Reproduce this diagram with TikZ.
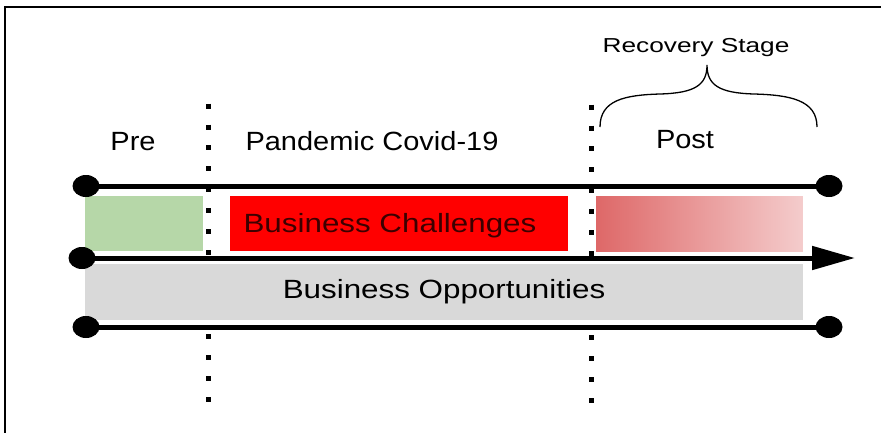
\documentclass[tikz,border=0pt]{standalone}
\usepackage{fontspec}
\setmainfont{Liberation Sans}
\newfontfamily\phasefont[FakeStretch=1.1]{Liberation Sans}
\newfontfamily\bandfont[FakeStretch=1.19]{Liberation Sans}
\newfontfamily\stagefont[FakeStretch=1.3]{Liberation Sans}
\usetikzlibrary{positioning,shapes.geometric,arrows.meta}

\definecolor{pregreen}{RGB}{182,215,168}
\definecolor{postred}{RGB}{222,104,104}
\definecolor{postpink}{RGB}{244,204,204}
\definecolor{oppgray}{RGB}{217,217,217}
\definecolor{darktext}{RGB}{60,0,0}

\newcommand{\linew}{0.1cm}
\newcommand{\bandheight}{1.1cm}

\tikzstyle{endpt}=[fill=black,draw=none,shape=ellipse,inner sep=0pt,
                   minimum width=0.54cm,minimum height=0.44cm]
\tikzstyle{timeline}=[draw=black,line width=\linew]
\tikzstyle{divider}=[draw=black,line width=\linew,dash pattern=on 0.1cm off 0.32cm]
\tikzstyle{band}=[draw=none,shape=rectangle,inner sep=0pt,minimum height=\bandheight,
                  font={\bandfont\fontsize{15}{18}\selectfont}]
\tikzstyle{phase}=[anchor=base,inner sep=0pt,font={\phasefont\fontsize{15}{18}\selectfont}]
\tikzstyle{stagelabel}=[anchor=base,inner sep=0pt,font={\stagefont\fontsize{11.5}{14}\selectfont}]

\begin{document}
\begin{tikzpicture}[x=0.02cm,y=-0.02cm]
\useasboundingbox (0,0) rectangle (881,433);

% page frame, top and left only
\draw [line width=0.04cm] (881,7) -- (5,7) -- (5,433);

% phase boundaries
\draw [divider] (208,103.5) -- (208,402.5);
\draw [divider] (591,104.5) -- (591,403.5);

% coloured bands
\node [band, fill=pregreen, minimum width=2.36cm] (pre) at (144,223.5) {};
\node [band, fill=red, minimum width=6.76cm] (chal) at (399,223.5) {};
\node [band, text=darktext, anchor=base] (lchal) at (390,232) {Business Challenges};
\node [band, left color=postred, right color=postpink, minimum width=4.14cm] (post) at (699.5,223.5) {};
\node [band, fill=oppgray, minimum width=14.36cm, minimum height=1.12cm] (opp) at (444,292) {Business Opportunities};

% time lines
\node [endpt] (t0) at (86,186) {};
\node [endpt] (t1) at (829,186) {};
\node [endpt] (m0) at (82,258) {};
\coordinate (mend) at (855,258);
\node [endpt] (b0) at (86,327) {};
\node [endpt] (b1) at (829,327) {};

\draw [timeline] (t0.center) -- (t1.center);
\draw [timeline, -{Triangle[length=0.86cm,width=0.46cm]}] (m0.center) -- (mend);
\draw [timeline] (b0.center) -- (b1.center);

% phase names
\node [phase] (lpre) at (133,150) {Pre};
\node [phase] (lpan) at (372,150) {Pandemic Covid-19};
\node [phase] (lpost) at (685,148) {Post};

% brace over the post phase
\coordinate (tip) at (707,65);
\draw [line width=0.026cm] (600,127) .. controls (600,100) and (625,95) .. (660,94)
      .. controls (695,93) and (707,85) .. (tip)
      .. controls (707,85) and (719,93) .. (754,94)
      .. controls (790,95) and (817,100) .. (817,127);
\node [stagelabel] (lrec) at (696,52) {Recovery Stage};
\end{tikzpicture}
\end{document}
